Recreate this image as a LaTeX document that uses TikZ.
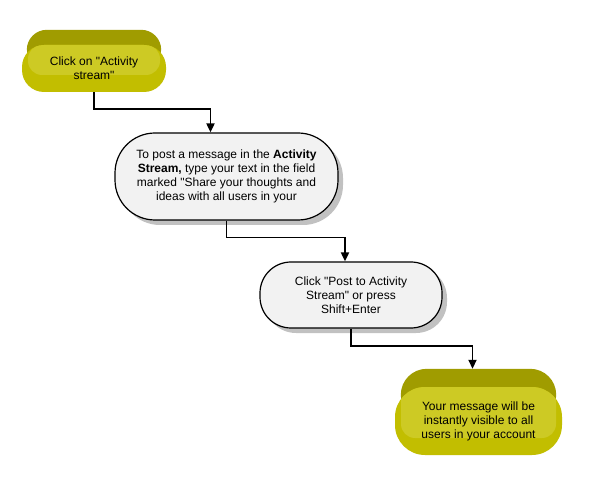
\documentclass[tikz,border=0pt]{standalone}
\usepackage{fontspec}
\setmainfont{Liberation Sans}[Ligatures=TeXOff]
\usepackage{tikz}
\usetikzlibrary{arrows.meta,shadows,backgrounds}
\definecolor{endtop}{HTML}{A09C00}
\definecolor{endbody}{HTML}{C2BE00}
\definecolor{endlight}{HTML}{CDCA24}
\definecolor{stepfill}{HTML}{F2F2F2}

\begin{document}
\begin{tikzpicture}[x=1pt, y=-1pt,
  endbox/.style={rounded corners=#1, fill=endbody, align=center, inner sep=0pt,
    font=\fontsize{12}{14}\selectfont,
    path picture={\fill[endlight, rounded corners=14pt]
      ([shift={(6pt,0pt)}]path picture bounding box.north west) rectangle
      ([shift={(-6pt,17pt)}]path picture bounding box.south east);}},
  endband/.style={fill=endtop, rounded corners=#1},
  stepbox/.style={draw, line width=1.2pt, fill=stepfill, align=center, inner sep=0pt,
    font=\fontsize{12}{14}\selectfont,
    drop shadow={shadow xshift=5pt, shadow yshift=-5pt, fill=black!40, opacity=.6}},
  link/.style={line width=1.8pt, -{Triangle[width=8pt,length=9pt]}},
]
  \useasboundingbox (0,0) rectangle (597,486);

  \node[endbox=22pt, minimum width=144pt, minimum height=47pt] (start) at (94,68.5)
    {Click on "Activity\\stream"};
  \node[stepbox, rounded corners=40pt, minimum width=223pt, minimum height=87pt] (step1) at (226.5,176.5)
    {To post a message in the \textbf{Activity}\\\textbf{Stream,} type your text  in the field\\marked "Share your thoughts and\\ideas with all users in your};
  \node[stepbox, rounded corners=31pt, minimum width=182pt, minimum height=66pt] (step2) at (351,295)
    {Click "Post to Activity\\Stream" or press\\Shift+Enter};
  \node[endbox=30pt, minimum width=167pt, minimum height=68pt] (finish) at (478.5,421)
    {Your message will be\\instantly visible to all\\users in your account};

  % top bevel of the yellow ends
  \begin{scope}[on background layer]
    \fill[white] (0,0) rectangle (597,486);
    \fill[endband=20pt] ([shift={(5pt,15pt)}]start.north west) rectangle ([xshift=-5pt]start.east);
    \fill[endband=26pt] ([shift={(6pt,18pt)}]finish.north west) rectangle ([xshift=-6pt]finish.east);
  \end{scope}

  \draw[link] (start.south) -- ++(0,17) -| ([xshift=-16pt]step1.north);
  \draw[link] (step1.south) -- ++(0,17) -| ([xshift=-6pt]step2.north);
  \draw[link] (step2.south) -- ++(0,17) -| ([xshift=-6pt,yshift=18pt]finish.north);
\end{tikzpicture}
\end{document}
